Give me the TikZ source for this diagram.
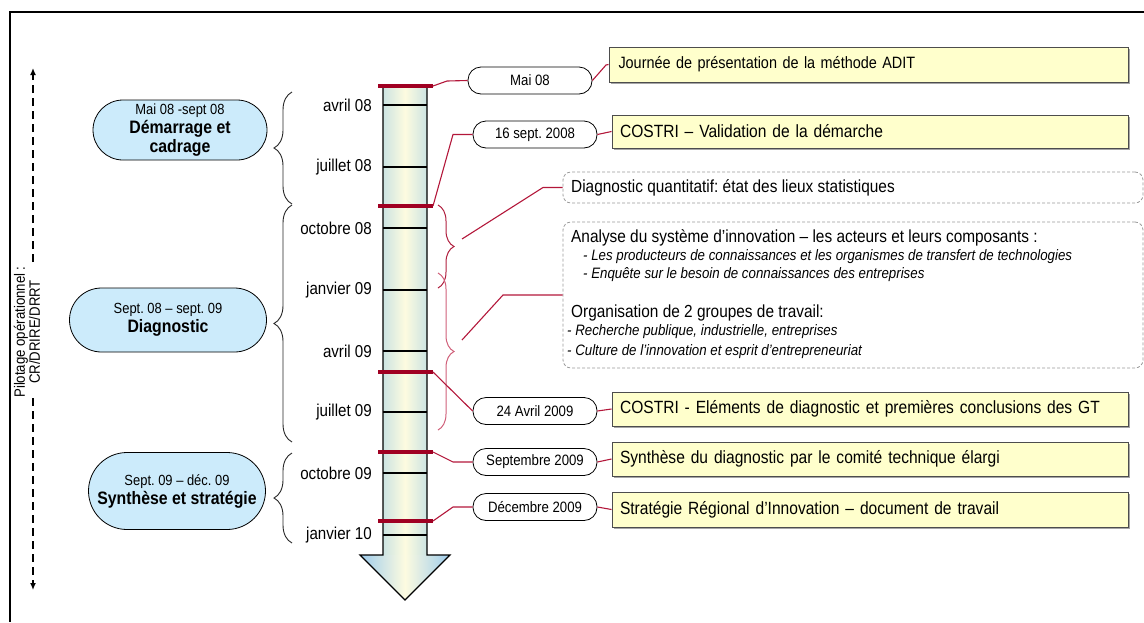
\documentclass[tikz,border=0pt]{standalone}
\usepackage{fontspec}
\setmainfont{Liberation Sans}[FakeStretch=0.88]
\usetikzlibrary{decorations.pathreplacing,shadows,shapes.misc,arrows.meta}

\definecolor{phasefill}{HTML}{CCEBFB}
\definecolor{noteyellow}{HTML}{FFFFCC}
\definecolor{notedraw}{HTML}{4D4D4D}
\definecolor{barred}{HTML}{A00022}
\definecolor{linkred}{HTML}{B3173A}
\definecolor{bracered}{HTML}{B0203F}
\definecolor{bracepink}{HTML}{D0607A}
\definecolor{shaftedge}{HTML}{CCE4E2}
\definecolor{shaftmid}{HTML}{FDFBE0}
\definecolor{headedge}{HTML}{9ECCEC}
\definecolor{dashgray}{HTML}{9A9A9A}

\newcommand\fsz[2]{\fontsize{#1pt}{#2pt}\selectfont}

\begin{document}
\frenchspacing
\begin{tikzpicture}[x=1pt,y=-1pt,
  month/.style={anchor=east, inner sep=0pt, font=\fsz{17.2}{19}},
  pill/.style={draw, line width=0.8pt, rectangle, rounded corners=13pt,
    minimum width=124pt, minimum height=27pt, inner sep=0pt, font=\fsz{15}{17}},
  phase/.style={draw, line width=0.8pt, fill=phasefill, rounded rectangle,
    align=center, inner sep=0pt, font=\fsz{15}{19}},
  note/.style={draw=notedraw, line width=1pt, fill=noteyellow, rectangle,
    minimum height=34pt, minimum width=516pt, text width=500pt, align=left,
    inner xsep=8pt, font=\fsz{17.7}{20},
    drop shadow={shadow xshift=2pt, shadow yshift=-2pt, fill=gray!70, opacity=1}},
  dbox/.style={draw=dashgray, line width=0.8pt, dash pattern=on 3pt off 2pt,
    rounded corners=8pt, rectangle, minimum width=580pt, inner sep=0pt},
  line/.style={anchor=west, inner sep=0pt, font=\fsz{17.5}{20}},
  sub/.style={anchor=west, inner sep=0pt, font=\fsz{15.1}{17}\itshape},
  bar/.style={barred, line width=4.5pt},
  link/.style={linkred, line width=1.1pt},
  tick/.style={line width=1.2pt},
  lbrace/.style={decorate, decoration={brace, amplitude=18pt}, line width=0.9pt, black!85},
  rbrace/.style={decorate, decoration={brace, amplitude=16pt}, line width=1pt},
  pilot/.style={line width=1.3pt, dash pattern=on 8pt off 5pt, -{Latex[length=7pt,width=6pt]}}
]
\useasboundingbox (0,0) rectangle (1144,622);

% page frame
\draw[line width=2pt] (1144,12) -- (10,12) -- (10,622);

% steering axis
\draw[pilot] (33,262) -- (33,68);
\draw[pilot] (33,398) -- (33,590);
\node[rotate=90, align=center, inner sep=0pt, font=\fsz{15}{13}] (pilotage) at (27,332)
  {Pilotage opérationnel :\\CR/DRIRE/DRRT};

% phases
\node[phase, minimum width=174pt, minimum height=60pt] (ph1) at (180,130)
  {\fsz{14.7}{19.5}Mai 08 -sept 08\\\fsz{18}{19.5}\bfseries Démarrage et\\\fsz{18}{19.5}\bfseries cadrage};
\node[phase, minimum width=197pt, minimum height=64pt] (ph2) at (168,320)
  {\fsz{14.7}{18.5}Sept. 08 -- sept. 09\\\fsz{18}{18.5}\bfseries Diagnostic};
\node[phase, minimum width=177pt, minimum height=77pt] (ph3) at (177,491)
  {\fsz{14.7}{18.5}Sept. 09 -- déc. 09\\\fsz{18}{18.5}\bfseries Synthèse et stratégie};

% phase braces
\draw[lbrace] (292,204) -- (292,92);
\draw[lbrace] (292,442) -- (292,205);
\draw[lbrace] (292,543) -- (292,453);

% time arrow
\shade[left color=shaftedge, right color=shaftedge, middle color=shaftmid] (383,86) rectangle (427,555);
\shade[left color=headedge, right color=headedge, middle color=shaftmid] (360,555) -- (450,555) -- (405,600) -- cycle;
\draw[line width=1.2pt, line join=miter] (383,86) -- (383,555) -- (360,555) -- (405,600) -- (450,555) -- (427,555) -- (427,86);

% month ticks and labels
\foreach \y/\m [count=\i] in {105/avril 08, 167/juillet 08, 228/octobre 08, 290/janvier 09,
    351/avril 09, 412/juillet 09, 473/octobre 09, 535/janvier 10} {
  \draw[tick] (383,\y) -- (427,\y);
  \node[month] (m\i) at (372,\y) {\m};
}

% milestone bars
\foreach \y [count=\i] in {86,206,372,452,521} {
  \draw[bar] (378,\y) -- (433,\y);
  \coordinate (b\i) at (433,\y);
}

% milestone dates
\node[pill] (p1) at (530,80.5) {Mai 08};
\node[pill] (p2) at (535,134.5) {16 sept. 2008};
\node[pill] (p3) at (535,411) {24 Avril 2009};
\node[pill] (p4) at (535,462) {Septembre 2009};
\node[pill] (p5) at (535,507) {Décembre 2009};

% milestone descriptions
\node[note, minimum width=519pt, minimum height=35pt, font=\fsz{16.4}{20}] (n1) at (868.5,64.5) {Journée de présentation de la méthode ADIT};
\node[note, minimum height=33pt] (n2) at (870,131.5) {COSTRI -- Validation de la démarche};
\node[note] (n3) at (870,409) {COSTRI - Eléments de diagnostic et premières conclusions des GT};
\node[note] (n4) at (870,459) {Synthèse du diagnostic par le comité technique élargi};
\node[note, minimum height=35pt] (n5) at (870,509.5) {Stratégie Régional d’Innovation -- document de travail};

% diagnostic work items
\node[dbox, minimum height=31pt] (dA) at (853,187.5) {};
\node[line] (tA) at (571,187.5) {Diagnostic quantitatif: état des lieux statistiques};
\node[dbox, minimum height=146pt] (dB) at (853,295) {};
\node[line] (tB1) at (571,238) {Analyse du système d’innovation -- les acteurs et leurs composants :};
\node[sub] (tB2) at (583,257) {- Les producteurs de connaissances et les organismes de transfert de technologies};
\node[sub] (tB3) at (583,275) {- Enquête sur le besoin de connaissances des entreprises};
\node[line] (tB4) at (571,313) {Organisation de 2 groupes de travail:};
\node[sub] (tB5) at (567,332) {- Recherche publique, industrielle, entreprises};
\node[sub] (tB6) at (567,352) {- Culture de l’innovation et esprit d’entrepreneuriat};

% diagnostic braces
\draw[rbrace, bracered] (438,205) -- (438,288);
\draw[rbrace, bracepink] (438,273) -- (438,430);
\coordinate (r1) at (462,239);
\coordinate (r2) at (462,340);

% connectors
\draw[link] (b1) -- (447,81) -- (p1.west);
\draw[link] (b2) -- (453,134.5) -- (p2.west);
\draw[link] (b3) -- (p3.west);
\draw[link] (b4) -- (453,462) -- (p4.west);
\draw[link] (b5) -- (453,507) -- (p5.west);
\draw[link] (p1.east) -- (606,65) -- (n1.west);
\draw[link] (p2.east) -- (n2.west);
\draw[link] (p3.east) -- (n3.west);
\draw[link] (p4.east) -- (n4.west);
\draw[link] (p5.east) -- (n5.west);
\draw[link] (r1) -- (543,187.5) -- (dA.west);
\draw[link] (r2) -- (503,295) -- (dB.west);
\end{tikzpicture}
\end{document}
